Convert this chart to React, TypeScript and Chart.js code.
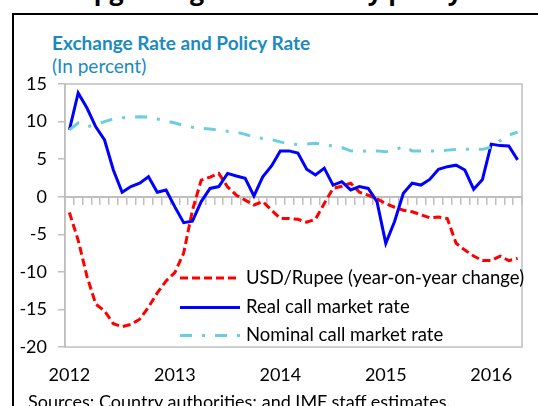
import React, { useEffect, useRef } from 'react';
import { Chart, registerables } from 'chart.js';

Chart.register(...registerables);

const categories = [
  'Jan-12', 'Feb-12', 'Mar-12', 'Apr-12', 'May-12', 'Jun-12', 'Jul-12', 'Aug-12', 'Sep-12', 'Oct-12', 'Nov-12', 'Dec-12',
  'Jan-13', 'Feb-13', 'Mar-13', 'Apr-13', 'May-13', 'Jun-13', 'Jul-13', 'Aug-13', 'Sep-13', 'Oct-13', 'Nov-13', 'Dec-13',
  'Jan-14', 'Feb-14', 'Mar-14', 'Apr-14', 'May-14', 'Jun-14', 'Jul-14', 'Aug-14', 'Sep-14', 'Oct-14', 'Nov-14', 'Dec-14',
  'Jan-15', 'Feb-15', 'Mar-15', 'Apr-15', 'May-15', 'Jun-15', 'Jul-15', 'Aug-15', 'Sep-15', 'Oct-15', 'Nov-15', 'Dec-15',
  'Jan-16', 'Feb-16', 'Mar-16', 'Apr-16',
];

const yearLabels = ['2012', '2013', '2014', '2015', '2016'];

const usdRupee = [
  -2.1, -5.8, -10.6, -14.3, -15.2, -16.9, -17.3, -17.0, -16.3, -14.7,
  -12.8, -11.2, -10.1, -7.5, -1.8, 2.2, 2.6, 3.1, 1.3, 0.2,
  -0.45, -1.1, -0.65, -1.8, -2.9, -2.9, -3.0, -3.4, -3.0, -0.9,
  1.1, 1.4, 1.8, 0.6, 0.2, -0.3, -0.9, -1.4, -1.8, -2.0,
  -2.4, -2.8, -2.7, -2.9, -6.2, -7.1, -7.9, -8.5, -8.5, -7.9,
  -8.5, -8.2,
];

const realCallRate = [
  8.9, 13.8, 11.8, 9.3, 7.55, 3.55, 0.6, 1.35, 1.8, 2.65,
  0.6, 0.9, -1.35, -3.45, -3.25, -0.65, 1.1, 1.35, 3.1, 2.75,
  2.45, 0.1, 2.65, 4.1, 6.1, 6.1, 5.8, 3.65, 2.9, 3.8,
  1.55, 2.0, 0.9, 1.35, 1.1, -0.65, -6.2, -3.3, 0.45, 1.8,
  1.55, 2.3, 3.65, 4.0, 4.2, 3.55, 1.0, 2.3, 7.0, 6.8,
  6.75, 4.9,
];

const nominalCallRate = [
  8.9, 9.8, 9.3, 9.6, 10.0, 10.35, 10.5, 10.55, 10.65, 10.6,
  10.35, 10.1, 9.8, 9.5, 9.25, 9.1, 9.0, 8.85, 8.7, 8.6,
  8.3, 7.95, 7.75, 7.6, 7.3, 7.0, 6.95, 7.0, 7.1, 7.0,
  6.7, 6.55, 6.1, 6.0, 6.1, 6.1, 6.0, 6.2, 6.7, 6.1,
  6.1, 6.1, 6.1, 6.2, 6.3, 6.3, 6.3, 6.3, 6.6, 7.45,
  8.2, 8.6,
];

const seriesNames = [
  'USD/Rupee (year-on-year change)',
  'Real call market rate',
  'Nominal call market rate',
];

const GRAY = '#bfbfbf';
const FONT = 'Lato, "Open Sans", sans-serif';

const plotBorderPlugin = {
  id: 'plotBorder',
  beforeDatasetsDraw(chart: any) {
    const { ctx, chartArea } = chart;
    ctx.save();
    ctx.strokeStyle = GRAY;
    ctx.lineWidth = 1.5;
    ctx.strokeRect(chartArea.left, chartArea.top, chartArea.right - chartArea.left, chartArea.bottom - chartArea.top);
    ctx.restore();
  },
};

const insideLegendPlugin = {
  id: 'insideLegend',
  afterDatasetsDraw(chart: any) {
    const { ctx } = chart;
    const x0 = 180;
    const x1 = 240;
    const tx = 246;
    const rows = [278, 307.5, 335.5];
    ctx.save();
    chart.data.datasets.forEach((ds: any, i: number) => {
      const y = rows[i];
      ctx.beginPath();
      ctx.strokeStyle = ds.borderColor;
      ctx.lineWidth = ds.borderWidth;
      ctx.setLineDash(ds.borderDash || []);
      ctx.lineCap = 'butt';
      ctx.moveTo(x0, y);
      ctx.lineTo(x1, y);
      ctx.stroke();
      ctx.setLineDash([]);
      ctx.fillStyle = '#000';
      ctx.font = `18.5px ${FONT}`;
      ctx.textBaseline = 'middle';
      ctx.textAlign = 'left';
      ctx.fillText(ds.label, tx, y);
    });
    ctx.restore();
  },
};

export default function App() {
  const canvasRef = useRef<HTMLCanvasElement | null>(null);

  useEffect(() => {
    if (!canvasRef.current) return;
    const chart = new Chart(canvasRef.current, {
      type: 'line',
      data: {
        labels: categories,
        datasets: [
          {
            label: seriesNames[0],
            data: usdRupee,
            borderColor: '#ff0000',
            borderWidth: 3,
            borderDash: [8, 4],
            pointRadius: 0,
            tension: 0,
            fill: false,
            order: 3,
            xAxisID: 'x',
            yAxisID: 'y',
          },
          {
            label: seriesNames[1],
            data: realCallRate,
            borderColor: '#0000ff',
            borderWidth: 3,
            pointRadius: 0,
            tension: 0,
            fill: false,
            order: 2,
            xAxisID: 'x',
            yAxisID: 'y',
          },
          {
            label: seriesNames[2],
            data: nominalCallRate,
            borderColor: '#6ccde0',
            borderWidth: 3,
            borderDash: [12, 10, 3, 10],
            pointRadius: 0,
            tension: 0,
            fill: false,
            order: 1,
            xAxisID: 'x',
            yAxisID: 'y',
          },
        ],
      },
      options: {
        animation: false,
        responsive: false,
        devicePixelRatio: 1,
        layout: { padding: { top: 84, right: 16, left: 0, bottom: 0 } },
        plugins: {
          legend: { display: false },
          tooltip: { enabled: false },
          title: { display: false },
        },
        scales: {
          x: {
            type: 'category',
            position: { y: 0 } as any,
            offset: true,
            grid: {
              display: true,
              drawOnChartArea: false,
              drawTicks: true,
              tickLength: 7,
              color: GRAY,
              lineWidth: 1.5,
              offset: true,
            },
            border: { display: true, color: GRAY, width: 2 },
            ticks: { display: false },
          },
          x2: {
            type: 'category',
            position: 'bottom',
            offset: true,
            grid: { display: false, drawTicks: false },
            border: { display: false },
            ticks: {
              autoSkip: false,
              maxRotation: 0,
              padding: 17,
              color: '#000',
              font: { family: FONT, size: 18 },
              callback: (_v: any, idx: number) => (idx % 12 === 0 ? yearLabels[idx / 12] : ''),
            },
            afterFit: (s: any) => {
              s.height = 59;
            },
          },
          y: {
            type: 'linear',
            position: 'left',
            min: -20,
            max: 15,
            ticks: {
              stepSize: 5,
              padding: 11,
              color: '#000',
              font: { family: FONT, size: 18 },
            },
            grid: {
              drawOnChartArea: false,
              drawTicks: true,
              tickLength: 7,
              color: GRAY,
              lineWidth: 1.5,
            },
            border: { display: true, color: GRAY, width: 1.5 },
            afterFit: (s: any) => {
              s.width = 65;
            },
          },
        },
      },
      plugins: [plotBorderPlugin, insideLegendPlugin],
    } as any);
    return () => chart.destroy();
  }, []);

  return (
    <div
      style={{
        position: 'fixed',
        left: 0,
        top: 0,
        width: 538,
        height: 406,
        overflow: 'hidden',
        background: '#fff',
      }}
    >
      <div
        style={{
          position: 'absolute',
          top: -22,
          right: 76,
          whiteSpace: 'nowrap',
          font: 'bold 25px "Open Sans", sans-serif',
          lineHeight: '25px',
          color: '#000',
        }}
      >
        Further upgrading the monetary policy
      </div>
      <div
        style={{
          position: 'absolute',
          left: 12,
          top: 13,
          width: 700,
          height: 600,
          borderLeft: '2px solid #000',
          borderTop: '2px solid #000',
        }}
      />
      <div
        style={{
          position: 'absolute',
          left: 52,
          top: 33,
          whiteSpace: 'nowrap',
          font: `bold 19px ${FONT}`,
          lineHeight: '19px',
          color: '#1a8bc0',
        }}
      >
        Exchange Rate and Policy Rate
      </div>
      <div
        style={{
          position: 'absolute',
          left: 52,
          top: 56,
          whiteSpace: 'nowrap',
          font: `19px ${FONT}`,
          lineHeight: '19px',
          color: '#1a8bc0',
        }}
      >
        (In percent)
      </div>
      <canvas
        ref={canvasRef}
        width={538}
        height={406}
        style={{ position: 'absolute', left: 0, top: 0, display: 'block' }}
      />
      <div
        style={{
          position: 'absolute',
          left: 28,
          top: 392,
          whiteSpace: 'nowrap',
          font: `18px ${FONT}`,
          lineHeight: '18px',
          color: '#000',
        }}
      >
        Sources: Country authorities; and IMF staff estimates.
      </div>
    </div>
  );
}
